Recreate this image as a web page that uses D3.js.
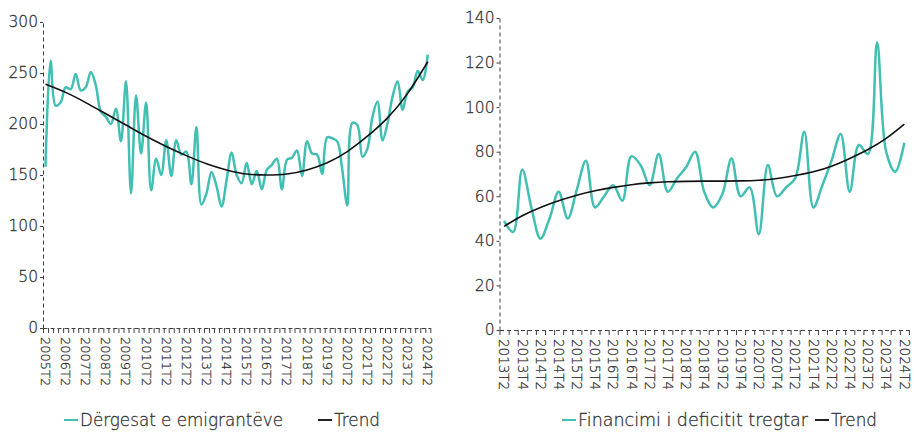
<!DOCTYPE html>
<html lang="sq">
<head>
<meta charset="UTF-8">
<title>Dërgesat e emigrantëve</title>
<script src="https://d3js.org/d3.v7.min.js"></script>
<style>
  body { margin: 0; background: #fff; }
  text { font-family: "DejaVu Sans", Lato, sans-serif; font-weight: 200; fill: #333; stroke: #333; stroke-width: 0.3px; }
</style>
</head>
<body>
<svg id="chart" width="914" height="433"></svg>
<script>
// ---- left panel: remittances, quarterly 2005T2..2024T2
var quartersLeft = [
  "2005T2","2005T3","2005T4",
  "2006T1","2006T2","2006T3","2006T4",
  "2007T1","2007T2","2007T3","2007T4",
  "2008T1","2008T2","2008T3","2008T4",
  "2009T1","2009T2","2009T3","2009T4",
  "2010T1","2010T2","2010T3","2010T4",
  "2011T1","2011T2","2011T3","2011T4",
  "2012T1","2012T2","2012T3","2012T4",
  "2013T1","2013T2","2013T3","2013T4",
  "2014T1","2014T2","2014T3","2014T4",
  "2015T1","2015T2","2015T3","2015T4",
  "2016T1","2016T2","2016T3","2016T4",
  "2017T1","2017T2","2017T3","2017T4",
  "2018T1","2018T2","2018T3","2018T4",
  "2019T1","2019T2","2019T3","2019T4",
  "2020T1","2020T2","2020T3","2020T4",
  "2021T1","2021T2","2021T3","2021T4",
  "2022T1","2022T2","2022T3","2022T4",
  "2023T1","2023T2","2023T3","2023T4",
  "2024T1","2024T2"
];
var remittances = [
  158, 262, 218,
  221, 236, 234, 249,
  233, 236, 251, 238,
  212, 207, 200, 215,
  183, 242, 132, 228,
  171, 221, 135, 166,
  150, 184, 149, 184,
  170, 173, 141, 197,
  121, 132, 153, 139,
  119, 145, 172, 150,
  142, 162, 141, 154,
  136, 155, 160, 166,
  136, 165, 167, 174,
  149, 183, 171, 170,
  151, 187, 186, 183,
  155, 120, 201, 199,
  168, 176, 207, 222,
  184, 201, 227, 242,
  214, 232, 236, 252,
  243, 268
];
var labelsLeft = ["2005T2","2006T2","2007T2","2008T2","2009T2","2010T2","2011T2",
  "2012T2","2013T2","2014T2","2015T2","2016T2","2017T2","2018T2","2019T2",
  "2020T2","2021T2","2022T2","2023T2","2024T2"];
// trend read at the labelled quarters
var trendLeft = [239, 231, 221, 210, 199, 188, 178, 169, 161, 155,
  151, 150, 151, 155, 162, 173, 188, 206, 230, 261];
var yTicksLeft = [0, 50, 100, 150, 200, 250, 300];

// ---- right panel: financing of the trade deficit, quarterly 2013T2..2024T2
var quartersRight = [
  "2013T2","2013T3","2013T4",
  "2014T1","2014T2","2014T3","2014T4",
  "2015T1","2015T2","2015T3","2015T4",
  "2016T1","2016T2","2016T3","2016T4",
  "2017T1","2017T2","2017T3","2017T4",
  "2018T1","2018T2","2018T3","2018T4",
  "2019T1","2019T2","2019T3","2019T4",
  "2020T1","2020T2","2020T3","2020T4",
  "2021T1","2021T2","2021T3","2021T4",
  "2022T1","2022T2","2022T3","2022T4",
  "2023T1","2023T2","2023T3","2023T4",
  "2024T1","2024T2"
];
var financing = [
  49, 44, 72,
  55, 41, 50, 62,
  50, 63, 76, 55,
  60, 65, 58, 78,
  74, 65, 79, 62,
  68, 73, 80, 62,
  55, 61, 77, 60,
  64, 43, 74, 60,
  64, 68, 89, 55,
  65, 76, 88, 62,
  83, 79, 129, 80,
  71, 84
];
var labelsRight = ["2013T2","2013T4","2014T2","2014T4","2015T2","2015T4","2016T2",
  "2016T4","2017T2","2017T4","2018T2","2018T4","2019T2","2019T4","2020T2",
  "2020T4","2021T2","2021T4","2022T2","2022T4","2023T2","2023T4","2024T2"];
var trendRight = [46.5, 51.3, 55.0, 58.0, 60.5, 62.5, 64.0, 65.2, 66.0, 66.5, 66.7,
  66.8, 66.8, 66.9, 67.2, 68.0, 69.3, 71.0, 73.5, 77.0, 81.0, 86.0, 92.4];
var yTicksRight = [0, 20, 40, 60, 80, 100, 120, 140];

var seriesNames = ["Dërgesat e emigrantëve", "Financimi i deficitit tregtar", "Trend"];

var teal = "#41bfb2", grey = "#404040";
var svg = d3.select("#chart");

function drawPanel(p) {
    var g = svg.append("g");

    var x = d3.scaleBand().domain(p.cats).range([p.x0, p.x1]).padding(0);
    var xIdx = d3.scaleLinear().domain([0, p.cats.length]).range([p.x0, p.x1]);
    var y = d3.scaleLinear().domain([0, d3.max(p.yTicks)]).range([p.yBot, p.yTop]);
    var cx = function(c) { return x(c) + x.bandwidth() / 2; };

    // tick marks at category boundaries
    g.append("g")
        .attr("transform", "translate(0," + p.yBot + ")")
        .call(d3.axisBottom(xIdx).tickValues(d3.range(p.cats.length + 1))
            .tickFormat("").tickSize(5).tickSizeOuter(0))
        .call(function(a) {
            a.select(".domain").attr("stroke", grey).attr("stroke-dasharray", "4,3");
            a.selectAll(".tick line").attr("stroke", grey);
        });

    // rotated category labels
    g.append("g")
        .attr("transform", "translate(0," + p.yBot + ")")
        .call(d3.axisBottom(x).tickValues(p.labels).tickSize(0))
        .call(function(a) {
            a.select(".domain").remove();
            a.selectAll(".tick text")
                .attr("transform", "rotate(90)")
                .attr("x", 9).attr("y", 0).attr("dy", "0.35em")
                .style("text-anchor", "start")
                .style("font-size", p.xFont + "px")
                .attr("fill", null);
        });

    // y axis
    g.append("g")
        .attr("transform", "translate(" + p.x0 + ",0)")
        .call(d3.axisLeft(y).tickValues(p.yTicks).tickSize(3).tickPadding(2).tickSizeOuter(0))
        .call(function(a) {
            a.select(".domain").attr("stroke", grey).attr("stroke-dasharray", "4,3");
            a.selectAll(".tick line").attr("stroke", grey);
            a.selectAll(".tick text").style("font-size", "15.5px").attr("fill", null);
        });

    var line = d3.line()
        .x(function(d) { return cx(d[0]); })
        .y(function(d) { return y(d[1]); })
        .curve(d3.curveCatmullRom.alpha(0.5));

    g.append("path")
        .datum(d3.zip(p.cats, p.values))
        .attr("fill", "none")
        .attr("stroke", teal)
        .attr("stroke-width", 2.5)
        .attr("d", line);

    var trendLine = d3.line()
        .x(function(d) { return cx(d[0]); })
        .y(function(d) { return y(d[1]); })
        .curve(d3.curveNatural);

    g.append("path")
        .datum(d3.zip(p.labels, p.trend))
        .attr("fill", "none")
        .attr("stroke", "#111")
        .attr("stroke-width", 1.6)
        .attr("d", trendLine);

    // legend
    var leg = g.append("g").attr("transform", "translate(0,420)");
    [[p.legX[0], teal, p.name, p.legW[0]], [p.legX[1], "#222", seriesNames[2], p.legW[1]]].forEach(function(it) {
        leg.append("line")
            .attr("x1", it[0]).attr("x2", it[0] + 14)
            .attr("y1", 0).attr("y2", 0)
            .attr("stroke", it[1]).attr("stroke-width", 2);
        leg.append("text")
            .attr("x", it[0] + 16).attr("y", 0).attr("dy", "0.35em")
            .attr("textLength", it[3]).attr("lengthAdjust", "spacingAndGlyphs")
            .style("font-size", "17px")
            .text(it[2]);
    });
}

drawPanel({
    cats: quartersLeft, values: remittances, labels: labelsLeft, trend: trendLeft,
    yTicks: yTicksLeft, x0: 43, x1: 430.3, yTop: 22, yBot: 328, xFont: 13,
    name: seriesNames[0], legX: [64, 318], legW: [203, 46]
});
drawPanel({
    cats: quartersRight, values: financing, labels: labelsRight, trend: trendRight,
    yTicks: yTicksRight, x0: 499.5, x1: 908.9, yTop: 18, yBot: 330, xFont: 13.5,
    name: seriesNames[1], legX: [562, 815], legW: [230, 46]
});
</script>
</body>
</html>
